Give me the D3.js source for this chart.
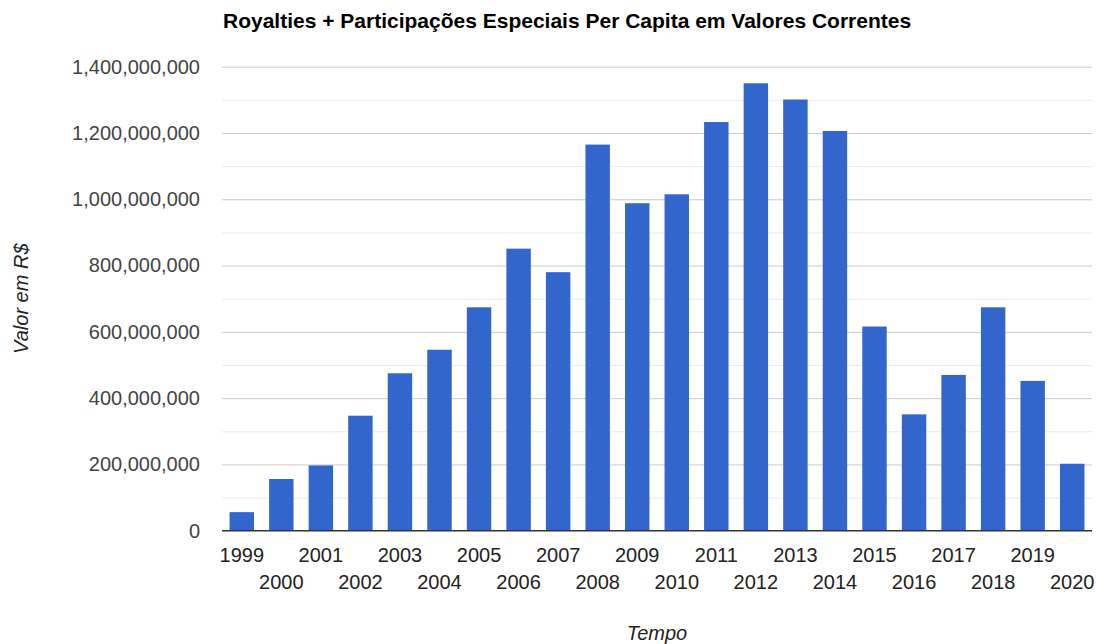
<!DOCTYPE html>
<html>
<head>
<meta charset="utf-8">
<script src="https://cdn.jsdelivr.net/npm/d3@7"></script>
<style>
  html, body { margin: 0; padding: 0; background: #fff; }
  svg { display: block; font-family: "Liberation Sans", Arial, sans-serif; }
</style>
</head>
<body>
<svg id="chart" width="1096" height="644"></svg>
<script>
// Royalties + Participações Especiais, valores correntes (R$)
const years = ["1999","2000","2001","2002","2003","2004","2005","2006","2007","2008","2009",
               "2010","2011","2012","2013","2014","2015","2016","2017","2018","2019","2020"];
const values = [56e6, 156e6, 197e6, 347e6, 475e6, 546e6, 674e6, 851e6, 780e6, 1165e6, 988e6,
                1015e6, 1233e6, 1350e6, 1301e6, 1206e6, 616e6, 351e6, 470e6, 674e6, 452e6, 202e6];
const majorTicks = [0, 200e6, 400e6, 600e6, 800e6, 1000e6, 1200e6, 1400e6];
const minorTicks = [100e6, 300e6, 500e6, 700e6, 900e6, 1100e6, 1300e6];

const titleText = "Royalties + Participações Especiais Per Capita em Valores Correntes";
const yTitle = "Valor em R$";
const xTitle = "Tempo";

const plot = { left: 222, right: 1092, top: 66.7, bottom: 530.7 };
const svg = d3.select("#chart");

const x = d3.scaleBand()
  .domain(years)
  .range([plot.left, plot.right])
  .paddingInner(0.382)
  .paddingOuter(0.191);

const y = d3.scaleLinear()
  .domain([0, 1400e6])
  .range([plot.bottom, plot.top]);

// minor gridlines
svg.append("g")
  .attr("transform", `translate(${plot.left},0)`)
  .call(d3.axisLeft(y).tickValues(minorTicks).tickSize(-(plot.right - plot.left)).tickFormat(""))
  .call(g => g.select(".domain").remove())
  .call(g => g.selectAll("line").attr("stroke", "#ebebeb").attr("stroke-width", 1));

// major gridlines
svg.append("g")
  .attr("transform", `translate(${plot.left},0)`)
  .call(d3.axisLeft(y).tickValues(majorTicks.filter(d => d > 0)).tickSize(-(plot.right - plot.left)).tickFormat(""))
  .call(g => g.select(".domain").remove())
  .call(g => g.selectAll("line").attr("stroke", "#cccccc").attr("stroke-width", 1));

// y tick labels
svg.append("g")
  .attr("transform", `translate(${plot.left},0)`)
  .call(d3.axisLeft(y).tickValues(majorTicks).tickSize(0).tickPadding(22).tickFormat(d3.format(",")))
  .call(g => g.select(".domain").remove())
  .call(g => g.selectAll("text")
    .attr("fill", "#444")
    .style("font-size", "20px")
    .style("font-family", "'Liberation Sans', Arial, sans-serif"));

// bars
svg.append("g")
  .selectAll("rect")
  .data(years.map((yr, i) => ({ yr, v: values[i] })))
  .join("rect")
  .attr("x", d => x(d.yr))
  .attr("width", x.bandwidth())
  .attr("y", d => y(d.v))
  .attr("height", d => y(0) - y(d.v))
  .attr("fill", "#3366cc");

// baseline
svg.append("line")
  .attr("x1", plot.left).attr("x2", plot.right)
  .attr("y1", y(0)).attr("y2", y(0))
  .attr("stroke", "#333").attr("stroke-width", 1.5);

// x labels, alternating rows
svg.append("g")
  .attr("transform", `translate(0,${plot.bottom})`)
  .call(d3.axisBottom(x).tickSize(0).tickPadding(0))
  .call(g => g.select(".domain").remove())
  .call(g => g.selectAll("text")
    .attr("dy", null)
    .attr("y", (d, i) => i % 2 === 0 ? 31 : 58)
    .attr("fill", "#222")
    .style("font-size", "20px")
    .style("font-family", "'Liberation Sans', Arial, sans-serif"));

// title
svg.append("text")
  .attr("x", 223)
  .attr("y", 28)
  .attr("fill", "#000")
  .style("font-size", "21px")
  .style("font-weight", "bold")
  .text(titleText);

// axis titles
svg.append("text")
  .attr("transform", `translate(28,${(plot.top + plot.bottom) / 2}) rotate(-90)`)
  .attr("text-anchor", "middle")
  .attr("fill", "#222")
  .style("font-size", "20px")
  .style("font-style", "italic")
  .text(yTitle);

svg.append("text")
  .attr("x", (plot.left + plot.right) / 2)
  .attr("y", 640)
  .attr("text-anchor", "middle")
  .attr("fill", "#222")
  .style("font-size", "20px")
  .style("font-style", "italic")
  .text(xTitle);
</script>
</body>
</html>
